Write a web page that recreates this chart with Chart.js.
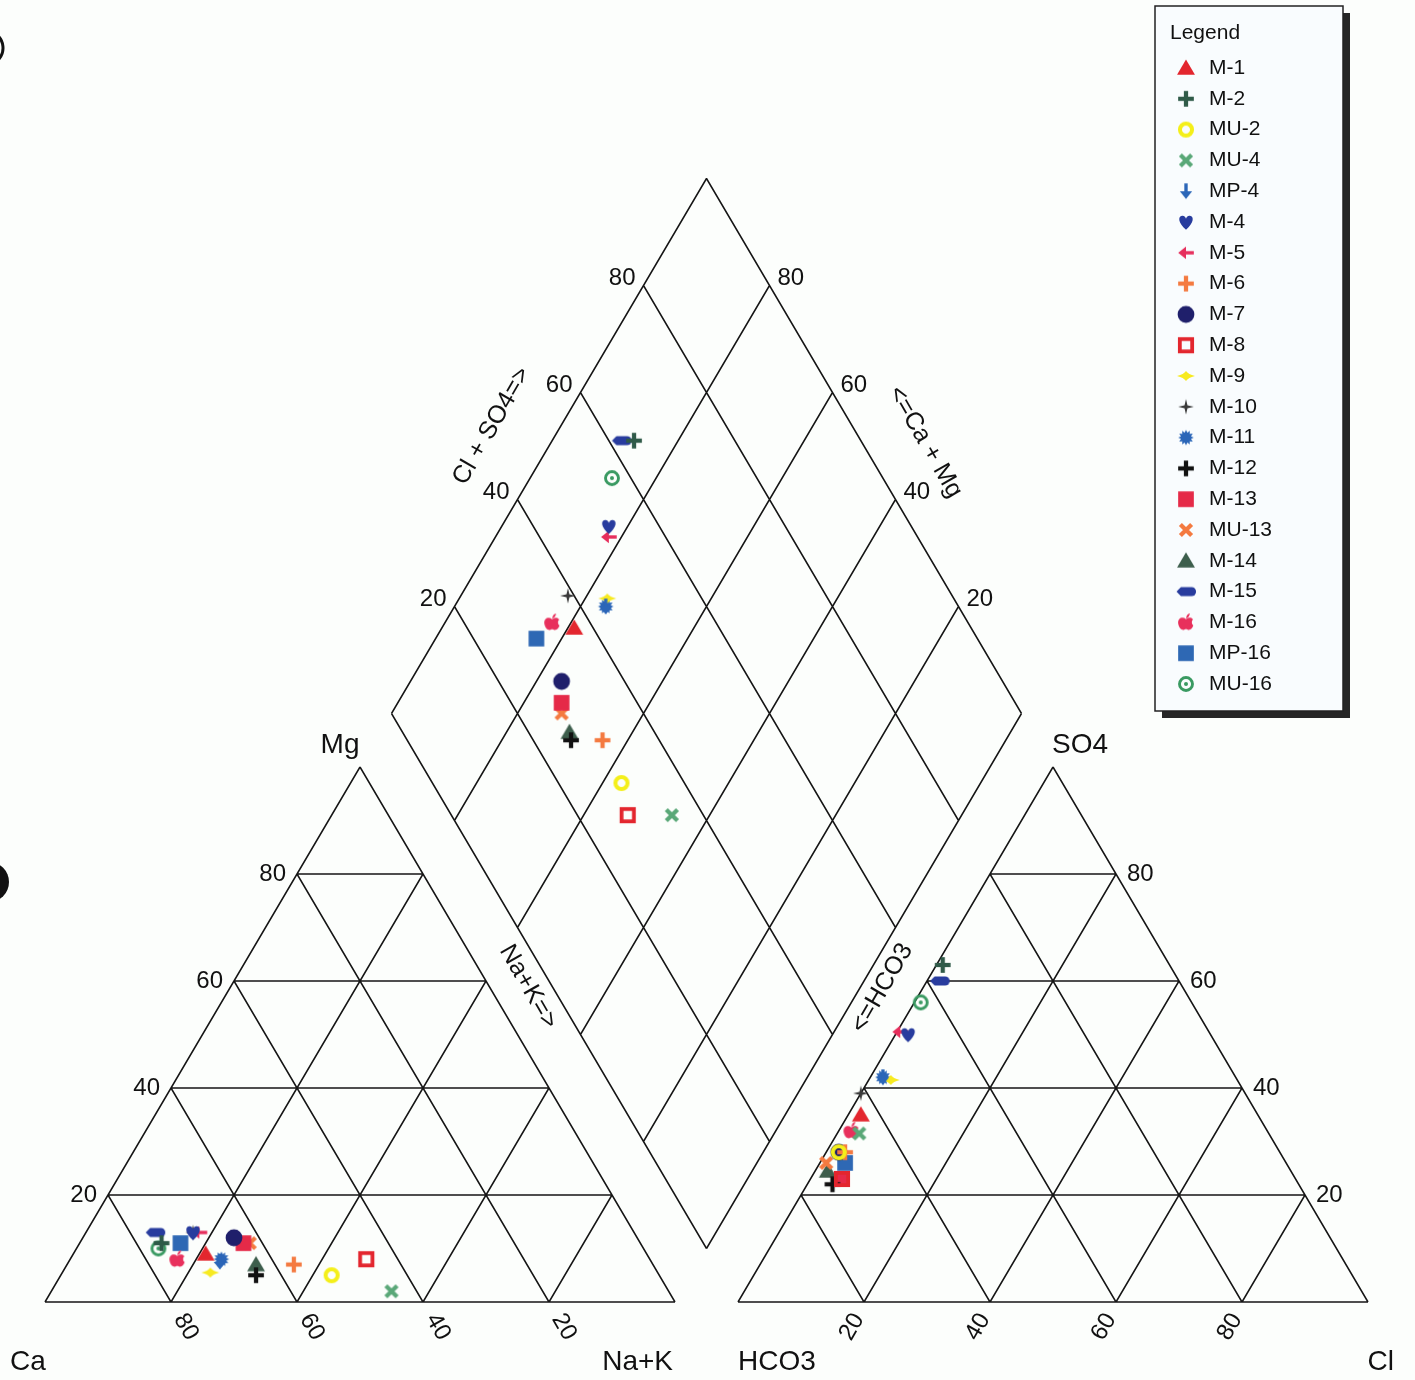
<!DOCTYPE html>
<html lang="en">
<head>
<meta charset="UTF-8">
<title>Piper Diagram</title>
<script src="https://cdn.jsdelivr.net/npm/chart.js@4.4.0/dist/chart.umd.min.js"></script>
<style>
    html, body {
        margin: 0;
        padding: 0;
        background: #fcfefc;
    }
    #wrap {
        width: 1415px;
        height: 1380px;
    }
</style>
</head>
<body>
<div id="wrap"><canvas id="piper" width="1415" height="1380"></canvas></div>
<script>
// samples and their major ions, % of total meq/L
const samples = ['M-1', 'M-2', 'MU-2', 'MU-4', 'MP-4', 'M-4', 'M-5', 'M-6', 'M-7', 'M-8', 'M-9',
                 'M-10', 'M-11', 'M-12', 'M-13', 'MU-13', 'M-14', 'M-15', 'M-16', 'MP-16', 'MU-16'];
const caPct   = [70, 76, 52, 44, 68.5, 70, 69, 57, 64, 45, 71, 70, 68, 64, 63, 62, 63, 76, 75, 73, 77];
const mgPct   = [9, 11, 5, 2, 7.5, 13, 13, 7, 12, 8, 5.5, 13, 8, 5, 11, 11, 7, 13, 8, 11, 10];
const naKPct  = [21, 13, 43, 54, 24, 17, 18, 36, 24, 47, 23.5, 17, 24, 31, 26, 27, 30, 11, 17, 16, 13];
const hco3Pct = [63, 36, 70, 65, 56, 48, 49, 69, 70, 72, 55, 61, 56, 74, 72, 73, 73.5, 38, 66, 70, 43];
const so4Pct  = [35, 63, 28, 31.5, 42, 50, 50.5, 28, 28, 23, 41.5, 39, 42, 22, 23, 26, 24.5, 60, 32, 26, 56];
const clPct   = [2, 1, 2, 3.5, 2, 2, 0.5, 3, 2, 5, 3.5, 0, 2, 4, 5, 1, 2, 2, 2, 4, 1];
const tickValues = [20, 40, 60, 80];

const markerShapes = ['triangle', 'plus', 'ring', 'cross', 'arrowDown', 'heart', 'arrowLeft', 'plus', 'disc',
                      'hollowSquare', 'lens', 'star4', 'burst', 'plus', 'square', 'cross', 'triangle', 'tag',
                      'apple', 'square', 'target'];
const markerColors = ['#e3262e', '#2f5a48', '#f4ef1a', '#5aa878', '#2b66b8', '#283c9e', '#e62e5c', '#f47a40',
                      '#1f1f6b', '#e3262e', '#f7ea20', '#3a3a3a', '#2b66b8', '#111111', '#e52a48', '#f47a40',
                      '#3d5e4c', '#283c9e', '#e8305c', '#2e68b4', '#3a9a62'];

const FONT = '"Liberation Sans", Arial, sans-serif';
const H = Math.sqrt(3) / 2;
const GAP = 10;                 // space between cation and anion triangles
const ANION_X0 = 100 + GAP;

// plot units -> page: 6.3 px per unit across, triangle height 535 px
const PX_X = 6.3, PX_Y = 535 / (100 * H);
const X_MIN = -45 / PX_X, X_MAX = (1415 - 45) / PX_X;
const Y_MIN = -78 / PX_Y, Y_MAX = 1302 / PX_Y;

function cationXY(i) {
    return { x: naKPct[i] + mgPct[i] / 2, y: mgPct[i] * H };
}
function anionXY(i) {
    return { x: ANION_X0 + clPct[i] + so4Pct[i] / 2, y: so4Pct[i] * H };
}
// project both triangle points up into the diamond
function diamondXY(c, a) {
    const t = (a.x - c.x) + (a.y - c.y) / (2 * H);
    return { x: c.x + t / 2, y: c.y + t * H };
}

// diamond corners
const dB = [100 + GAP / 2, GAP * H];
const dL = [dB[0] - 50, dB[1] + 100 * H];
const dR = [dB[0] + 50, dB[1] + 100 * H];
const dT = [dB[0], dB[1] + 200 * H];
const lerp = (a, b, f) => [a[0] + (b[0] - a[0]) * f, a[1] + (b[1] - a[1]) * f];

function paintMarker(g, shape, color) {
    g.fillStyle = color;
    g.strokeStyle = color;
    g.beginPath();
    switch (shape) {
        case 'triangle':
            g.moveTo(0, -7.5); g.lineTo(8, 6); g.lineTo(-8, 6); g.closePath(); g.fill();
            break;
        case 'plus':
            g.fillRect(-7, -1.9, 14, 3.8); g.fillRect(-1.9, -7, 3.8, 14);
            break;
        case 'ring':
            g.lineWidth = 3.6; g.arc(0, 0, 5.4, 0, Math.PI * 2); g.stroke();
            break;
        case 'cross':
            g.lineWidth = 3.8;
            g.moveTo(-5, -5); g.lineTo(5, 5); g.moveTo(5, -5); g.lineTo(-5, 5); g.stroke();
            break;
        case 'arrowDown':
            g.fillRect(-1.5, -7, 3, 8);
            g.moveTo(-5.5, 0); g.lineTo(5.5, 0); g.lineTo(0, 7); g.closePath(); g.fill();
            break;
        case 'heart':
            g.moveTo(0, 7);
            g.bezierCurveTo(-7, 1, -7.5, -5, -3.5, -5.5);
            g.bezierCurveTo(-1.5, -5.7, -0.3, -4.3, 0, -2.8);
            g.bezierCurveTo(0.3, -4.3, 1.5, -5.7, 3.5, -5.5);
            g.bezierCurveTo(7.5, -5, 7, 1, 0, 7);
            g.fill();
            break;
        case 'arrowLeft':
            g.fillRect(-1, -1.5, 8, 3);
            g.moveTo(0, -5.5); g.lineTo(0, 5.5); g.lineTo(-7, 0); g.closePath(); g.fill();
            break;
        case 'disc':
            g.arc(0, 0, 7.5, 0, Math.PI * 2); g.fill();
            break;
        case 'hollowSquare':
            g.lineWidth = 3.4; g.strokeRect(-5.5, -5.5, 11, 11);
            break;
        case 'lens':
            g.moveTo(-8, 0);
            g.quadraticCurveTo(-2, -1.5, 0, -4.5); g.quadraticCurveTo(2, -1.5, 8, 0);
            g.quadraticCurveTo(2, 1.5, 0, 4.5); g.quadraticCurveTo(-2, 1.5, -8, 0);
            g.fill();
            break;
        case 'star4':
            g.moveTo(0, -7); g.lineTo(1.3, -1.3); g.lineTo(7, 0); g.lineTo(1.3, 1.3);
            g.lineTo(0, 7); g.lineTo(-1.3, 1.3); g.lineTo(-7, 0); g.lineTo(-1.3, -1.3);
            g.closePath(); g.fill();
            break;
        case 'burst':
            for (let k = 0; k < 24; k++) {
                const r = k % 2 ? 4.6 : 7;
                const a = k * Math.PI / 12;
                g.lineTo(r * Math.cos(a), r * Math.sin(a));
            }
            g.closePath(); g.fill();
            break;
        case 'square':
            g.fillRect(-7, -7, 14, 14);
            break;
        case 'tag':
            g.moveTo(-8.5, 0); g.lineTo(-4.5, -4); g.lineTo(5, -4);
            g.arc(5, 0, 4, -Math.PI / 2, Math.PI / 2);
            g.lineTo(-4.5, 4); g.closePath(); g.fill();
            break;
        case 'apple':
            g.moveTo(0, -3);
            g.bezierCurveTo(-3, -5.5, -7.5, -4, -7, 1);
            g.bezierCurveTo(-6.5, 5, -3.5, 7.5, -1.5, 6.5);
            g.bezierCurveTo(-0.5, 6, 0.5, 6, 1.5, 6.5);
            g.bezierCurveTo(3.5, 7.5, 6.5, 5, 7, 1);
            g.bezierCurveTo(7.5, -4, 3, -5.5, 0, -3);
            g.fill();
            g.beginPath();
            g.moveTo(0, -3.5); g.quadraticCurveTo(0.5, -7.5, 3.5, -8); g.quadraticCurveTo(3, -4.5, 0, -3.5);
            g.fill();
            g.globalCompositeOperation = 'destination-out';
            g.beginPath(); g.arc(8, 0, 2.8, 0, Math.PI * 2); g.fill();
            g.globalCompositeOperation = 'source-over';
            break;
        case 'target':
            g.lineWidth = 2.6; g.arc(0, 0, 5.8, 0, Math.PI * 2); g.stroke();
            g.beginPath(); g.arc(0, 0, 1.8, 0, Math.PI * 2); g.fill();
            break;
    }
}

const markerImages = markerShapes.map((shape, i) => {
    const c = document.createElement('canvas');
    c.width = c.height = 26;
    const g = c.getContext('2d');
    g.translate(13, 13);
    g.scale(1.12, 1.12);
    paintMarker(g, shape, markerColors[i]);
    return c;
});

// triangles, diamond, grid and axis text
const piperFrame = {
    id: 'piperFrame',
    beforeDatasetsDraw(chart) {
        const { ctx } = chart;
        const sx = chart.scales.x, sy = chart.scales.y;
        const P = p => [sx.getPixelForValue(p[0]), sy.getPixelForValue(p[1])];
        const seg = (a, b) => {
            const p = P(a), q = P(b);
            ctx.moveTo(p[0], p[1]);
            ctx.lineTo(q[0], q[1]);
        };
        const text = (str, x, y, align, rot) => {
            ctx.save();
            ctx.translate(x, y);
            ctx.rotate(rot || 0);
            ctx.textAlign = align || 'center';
            ctx.textBaseline = 'middle';
            ctx.fillText(str, 0, 0);
            ctx.restore();
        };

        ctx.save();
        ctx.strokeStyle = '#151515';
        ctx.lineWidth = 1.5;
        ctx.beginPath();
        [0, ANION_X0].forEach(x0 => {
            const A = [x0, 0], B = [x0 + 100, 0], C = [x0 + 50, 100 * H];
            seg(A, B); seg(B, C); seg(C, A);
            tickValues.forEach(v => {
                seg([x0 + v / 2, v * H], [x0 + 100 - v / 2, v * H]);
                seg([x0 + v, 0], [x0 + v + (100 - v) / 2, (100 - v) * H]);
                seg([x0 + 100 - v, 0], [x0 + (100 - v) / 2, (100 - v) * H]);
            });
        });
        seg(dB, dL); seg(dL, dT); seg(dT, dR); seg(dR, dB);
        tickValues.forEach(v => {
            seg(lerp(dL, dT, v / 100), lerp(dB, dR, v / 100));
            seg(lerp(dR, dT, v / 100), lerp(dB, dL, v / 100));
        });
        ctx.stroke();

        ctx.fillStyle = '#111';
        ctx.font = '24px ' + FONT;
        tickValues.forEach(v => {
            const s = String(v);
            let p = P([100 - v, 0]);
            text(s, p[0] + 15, p[1] + 25, 'center', Math.PI / 3);
            p = P([v / 2, v * H]);
            text(s, p[0] - 11, p[1], 'right');
            p = P([ANION_X0 + v, 0]);
            text(s, p[0] - 12, p[1] + 25, 'center', -Math.PI / 3);
            p = P([ANION_X0 + 100 - v / 2, v * H]);
            text(s, p[0] + 11, p[1], 'left');
            p = P(lerp(dL, dT, v / 100));
            text(s, p[0] - 8, p[1] - 7, 'right');
            p = P(lerp(dR, dT, v / 100));
            text(s, p[0] + 8, p[1] - 7, 'left');
        });

        ctx.font = '28px ' + FONT;
        let p = P([0, 0]);
        text('Ca', p[0] - 35, p[1] + 60, 'left');
        p = P([100, 0]);
        text('Na+K', p[0] - 2, p[1] + 60, 'right');
        p = P([50, 100 * H]);
        text('Mg', p[0] - 20, p[1] - 22, 'center');
        p = P([ANION_X0, 0]);
        text('HCO3', p[0], p[1] + 60, 'left');
        p = P([ANION_X0 + 100, 0]);
        text('Cl', p[0] + 26, p[1] + 60, 'right');
        p = P([ANION_X0 + 50, 100 * H]);
        text('SO4', p[0] + 27, p[1] - 22, 'center');

        ctx.font = '25px ' + FONT;
        p = P([76.7, 51.0]);
        text('Na+K=>', p[0], p[1], 'center', Math.PI / 3);
        p = P([132.9, 50.8]);
        text('<=HCO3', p[0], p[1], 'center', -Math.PI / 3);
        p = P([70.95, 141.8]);
        text('Cl + SO4=>', p[0], p[1], 'center', -Math.PI / 3);
        p = P([139.7, 139.2]);
        text('<=Ca + Mg', p[0], p[1], 'center', Math.PI / 3);

        // marks along the page edge
        ctx.fillStyle = '#111';
        ctx.beginPath();
        ctx.arc(-11, 882, 20, 0, Math.PI * 2);
        ctx.fill();
        ctx.strokeStyle = '#111';
        ctx.lineWidth = 3;
        ctx.beginPath();
        ctx.arc(-14, 48, 17, -0.9, 0.9);
        ctx.stroke();
        ctx.restore();
    },
    afterDraw(chart) {
        const { ctx } = chart;
        const bx = 1155, by = 6, bw = 188, bh = 705;
        ctx.save();
        ctx.fillStyle = '#262626';
        ctx.fillRect(bx + 7, by + 7, bw, bh);
        ctx.fillStyle = '#f9fcfe';
        ctx.fillRect(bx, by, bw, bh);
        ctx.strokeStyle = '#222';
        ctx.lineWidth = 1.5;
        ctx.strokeRect(bx, by, bw, bh);

        ctx.fillStyle = '#111';
        ctx.font = '21px ' + FONT;
        ctx.textBaseline = 'middle';
        ctx.textAlign = 'left';
        ctx.fillText('Legend', bx + 15, by + 27);
        samples.forEach((name, i) => {
            const y = 68 + i * 30.8;
            ctx.drawImage(markerImages[i], 1186 - 13, y - 13);
            ctx.fillText(name, 1209, y);
        });
        ctx.restore();
    }
};

const pointSets = samples.map((name, i) => {
    const c = cationXY(i);
    const a = anionXY(i);
    return {
        label: name,
        data: [c, a, diamondXY(c, a)],
        pointStyle: markerImages[i],
        pointRadius: 6,
        showLine: false
    };
});

new Chart(document.getElementById('piper'), {
    type: 'scatter',
    data: { datasets: pointSets },
    options: {
        responsive: false,
        animation: false,
        layout: { padding: 0, autoPadding: false },
        plugins: {
            legend: { display: false },
            tooltip: { enabled: false }
        },
        scales: {
            x: { type: 'linear', min: X_MIN, max: X_MAX, display: false },
            y: { type: 'linear', min: Y_MIN, max: Y_MAX, display: false }
        }
    },
    plugins: [piperFrame]
});
</script>
</body>
</html>
